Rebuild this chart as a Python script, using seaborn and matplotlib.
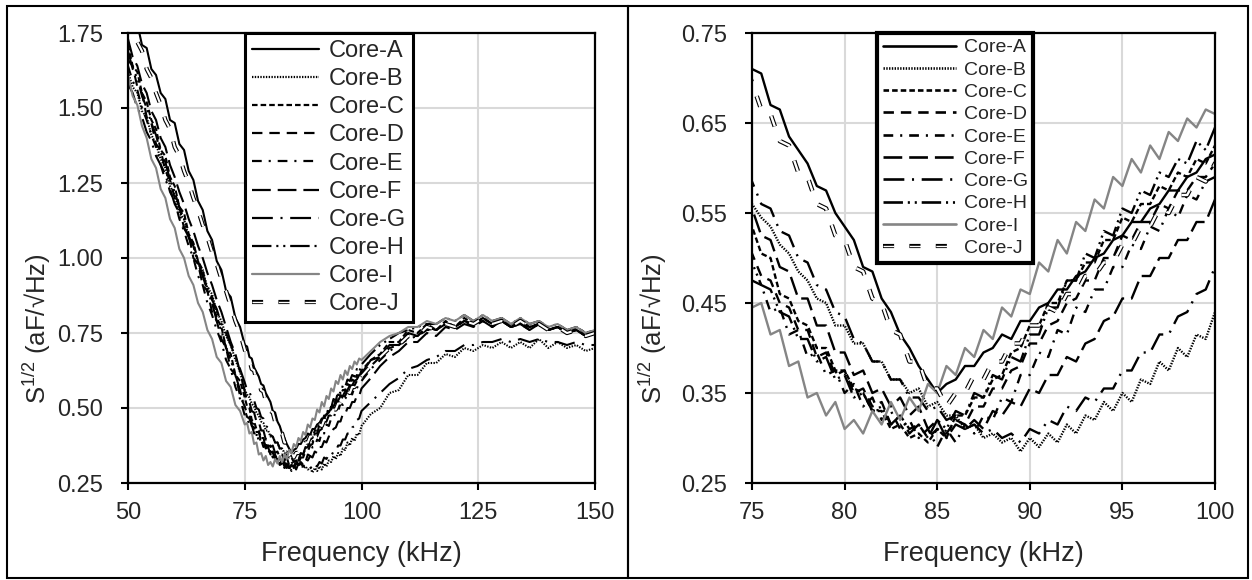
import matplotlib
matplotlib.use("Agg")
import matplotlib.pyplot as plt
import matplotlib.patheffects as pe
from matplotlib.patches import Rectangle
import pandas as pd
import seaborn as sns

# sampling grid (kHz): 1 kHz below 75, 0.5 kHz in the zoomed band, 2 kHz above 100
freq_khz = [50, 51, 52, 53, 54, 55, 56, 57, 58, 59, 60, 61, 62, 63, 64, 65, 66, 67, 68, 69, 70, 71, 72, 73, 74,
            75, 75.5, 76, 76.5, 77, 77.5, 78, 78.5, 79, 79.5, 80, 80.5, 81, 81.5, 82, 82.5, 83, 83.5, 84, 84.5,
            85, 85.5, 86, 86.5, 87, 87.5, 88, 88.5, 89, 89.5, 90, 90.5, 91, 91.5, 92, 92.5, 93, 93.5, 94, 94.5,
            95, 95.5, 96, 96.5, 97, 97.5, 98, 98.5, 99, 99.5, 100,
            102, 104, 106, 108, 110, 112, 114, 116, 118, 120, 122, 124, 126, 128, 130, 132, 134, 136, 138, 140,
            142, 144, 146, 148, 150]

core_names = ["Core-A", "Core-B", "Core-C", "Core-D", "Core-E",
              "Core-F", "Core-G", "Core-H", "Core-I", "Core-J"]

core_a = [1.85, 1.79, 1.78, 1.71, 1.70, 1.63, 1.61, 1.55, 1.53, 1.46, 1.45, 1.38, 1.36, 1.29, 1.26, 1.19, 1.16, 1.09, 1.06, 0.99, 0.96, 0.89, 0.87, 0.80, 0.77,
          0.71, 0.705, 0.67, 0.665, 0.635, 0.62, 0.605, 0.58, 0.575, 0.55, 0.535, 0.52, 0.49, 0.485, 0.455, 0.44, 0.415, 0.40, 0.38, 0.365,
          0.35, 0.36, 0.365, 0.38, 0.38, 0.395, 0.40, 0.415, 0.41, 0.43, 0.43, 0.445, 0.45, 0.465, 0.465, 0.48, 0.485, 0.50, 0.505, 0.52,
          0.525, 0.54, 0.54, 0.555, 0.56, 0.575, 0.575, 0.59, 0.595, 0.61, 0.615,
          0.66, 0.67, 0.71, 0.71, 0.75, 0.74, 0.77, 0.76, 0.78, 0.77, 0.79, 0.78, 0.80, 0.78, 0.79, 0.77, 0.78, 0.77, 0.78, 0.76, 0.77, 0.75, 0.76, 0.74, 0.75]
core_b = [1.62, 1.57, 1.55, 1.49, 1.47, 1.41, 1.38, 1.33, 1.30, 1.24, 1.21, 1.15, 1.13, 1.07, 1.05, 0.98, 0.96, 0.90, 0.88, 0.82, 0.79, 0.74, 0.71, 0.66, 0.62,
          0.56, 0.545, 0.535, 0.515, 0.505, 0.485, 0.475, 0.455, 0.45, 0.425, 0.425, 0.405, 0.405, 0.385, 0.385, 0.365, 0.365, 0.35, 0.355, 0.335,
          0.34, 0.325, 0.325, 0.31, 0.315, 0.30, 0.305, 0.295, 0.30, 0.285, 0.30, 0.29, 0.305, 0.295, 0.315, 0.305, 0.325, 0.32, 0.34, 0.33,
          0.35, 0.34, 0.365, 0.36, 0.385, 0.375, 0.40, 0.39, 0.415, 0.41, 0.44,
          0.48, 0.50, 0.55, 0.56, 0.61, 0.61, 0.65, 0.65, 0.68, 0.67, 0.70, 0.69, 0.71, 0.70, 0.72, 0.70, 0.72, 0.70, 0.73, 0.70, 0.72, 0.70, 0.71, 0.69, 0.70]
core_c = [1.71, 1.64, 1.62, 1.55, 1.52, 1.46, 1.43, 1.36, 1.34, 1.27, 1.24, 1.17, 1.15, 1.08, 1.05, 0.99, 0.96, 0.89, 0.87, 0.80, 0.77, 0.70, 0.68, 0.61, 0.59,
          0.535, 0.505, 0.50, 0.46, 0.455, 0.43, 0.425, 0.40, 0.40, 0.375, 0.375, 0.355, 0.35, 0.33, 0.33, 0.31, 0.315, 0.30, 0.305, 0.295,
          0.31, 0.30, 0.325, 0.325, 0.345, 0.345, 0.365, 0.37, 0.395, 0.40, 0.425, 0.425, 0.45, 0.45, 0.475, 0.475, 0.495, 0.495, 0.52, 0.52,
          0.545, 0.54, 0.56, 0.56, 0.58, 0.575, 0.595, 0.59, 0.61, 0.605, 0.625,
          0.66, 0.68, 0.72, 0.72, 0.76, 0.75, 0.78, 0.76, 0.79, 0.77, 0.80, 0.78, 0.80, 0.78, 0.80, 0.77, 0.79, 0.77, 0.78, 0.76, 0.77, 0.75, 0.77, 0.75, 0.76]
core_d = [1.66, 1.64, 1.57, 1.55, 1.47, 1.45, 1.38, 1.36, 1.29, 1.26, 1.20, 1.17, 1.10, 1.08, 1.00, 0.98, 0.91, 0.89, 0.82, 0.79, 0.73, 0.70, 0.63, 0.61, 0.54,
          0.505, 0.48, 0.475, 0.45, 0.445, 0.42, 0.42, 0.39, 0.395, 0.37, 0.375, 0.35, 0.355, 0.335, 0.34, 0.315, 0.325, 0.31, 0.315, 0.30,
          0.31, 0.305, 0.32, 0.315, 0.335, 0.335, 0.355, 0.355, 0.375, 0.38, 0.405, 0.405, 0.425, 0.43, 0.45, 0.455, 0.475, 0.475, 0.50, 0.50,
          0.525, 0.52, 0.54, 0.54, 0.56, 0.555, 0.575, 0.575, 0.59, 0.59, 0.605,
          0.64, 0.67, 0.70, 0.71, 0.74, 0.74, 0.77, 0.76, 0.78, 0.77, 0.79, 0.78, 0.79, 0.77, 0.79, 0.77, 0.78, 0.76, 0.78, 0.76, 0.77, 0.75, 0.76, 0.74, 0.75]
core_e = [1.64, 1.59, 1.56, 1.50, 1.46, 1.41, 1.37, 1.31, 1.28, 1.22, 1.19, 1.13, 1.09, 1.04, 1.00, 0.94, 0.91, 0.85, 0.81, 0.76, 0.72, 0.66, 0.63, 0.57, 0.53,
          0.475, 0.47, 0.44, 0.445, 0.415, 0.42, 0.39, 0.395, 0.37, 0.375, 0.35, 0.36, 0.335, 0.345, 0.32, 0.33, 0.31, 0.32, 0.30, 0.31,
          0.29, 0.31, 0.295, 0.315, 0.305, 0.325, 0.32, 0.345, 0.34, 0.37, 0.37, 0.395, 0.39, 0.42, 0.415, 0.445, 0.44, 0.465, 0.465, 0.49,
          0.49, 0.515, 0.51, 0.535, 0.53, 0.555, 0.545, 0.57, 0.565, 0.585, 0.59,
          0.63, 0.66, 0.69, 0.71, 0.73, 0.74, 0.76, 0.76, 0.78, 0.77, 0.79, 0.77, 0.80, 0.78, 0.79, 0.78, 0.79, 0.77, 0.78, 0.76, 0.77, 0.76, 0.76, 0.75, 0.74]
core_f = [1.73, 1.67, 1.64, 1.58, 1.55, 1.49, 1.46, 1.40, 1.37, 1.31, 1.27, 1.22, 1.18, 1.13, 1.09, 1.04, 1.00, 0.95, 0.91, 0.86, 0.82, 0.77, 0.72, 0.68, 0.62,
          0.555, 0.525, 0.52, 0.49, 0.485, 0.455, 0.455, 0.425, 0.425, 0.395, 0.395, 0.37, 0.375, 0.35, 0.355, 0.335, 0.345, 0.325, 0.335, 0.31,
          0.32, 0.30, 0.315, 0.31, 0.32, 0.31, 0.33, 0.325, 0.34, 0.335, 0.355, 0.35, 0.37, 0.37, 0.39, 0.385, 0.405, 0.41, 0.43, 0.435,
          0.455, 0.455, 0.48, 0.48, 0.50, 0.50, 0.52, 0.52, 0.54, 0.54, 0.565,
          0.60, 0.64, 0.67, 0.69, 0.72, 0.72, 0.75, 0.74, 0.77, 0.76, 0.78, 0.77, 0.79, 0.77, 0.79, 0.77, 0.78, 0.76, 0.78, 0.76, 0.77, 0.75, 0.76, 0.74, 0.75]
core_g = [1.58, 1.55, 1.50, 1.47, 1.42, 1.39, 1.34, 1.31, 1.26, 1.23, 1.18, 1.15, 1.10, 1.07, 1.02, 0.99, 0.94, 0.91, 0.86, 0.83, 0.78, 0.75, 0.71, 0.67, 0.63,
          0.585, 0.56, 0.555, 0.53, 0.525, 0.50, 0.495, 0.47, 0.465, 0.44, 0.435, 0.41, 0.405, 0.385, 0.385, 0.365, 0.365, 0.345, 0.345, 0.33,
          0.335, 0.32, 0.325, 0.31, 0.315, 0.305, 0.31, 0.30, 0.305, 0.295, 0.31, 0.305, 0.32, 0.315, 0.335, 0.33, 0.345, 0.34, 0.355, 0.355,
          0.375, 0.375, 0.395, 0.395, 0.415, 0.415, 0.435, 0.44, 0.46, 0.465, 0.49,
          0.52, 0.55, 0.58, 0.60, 0.63, 0.64, 0.66, 0.67, 0.69, 0.69, 0.71, 0.71, 0.72, 0.72, 0.73, 0.72, 0.73, 0.72, 0.73, 0.72, 0.72, 0.71, 0.72, 0.71, 0.71]
core_h = [1.69, 1.63, 1.60, 1.54, 1.50, 1.45, 1.41, 1.35, 1.32, 1.26, 1.22, 1.17, 1.13, 1.07, 1.04, 0.98, 0.94, 0.89, 0.85, 0.79, 0.76, 0.70, 0.66, 0.61, 0.56,
          0.495, 0.47, 0.465, 0.44, 0.435, 0.41, 0.41, 0.385, 0.39, 0.365, 0.37, 0.345, 0.35, 0.33, 0.335, 0.315, 0.325, 0.305, 0.315, 0.30,
          0.32, 0.31, 0.33, 0.325, 0.35, 0.345, 0.37, 0.365, 0.39, 0.385, 0.415, 0.415, 0.445, 0.445, 0.475, 0.475, 0.505, 0.50, 0.53, 0.525,
          0.555, 0.55, 0.575, 0.57, 0.595, 0.59, 0.61, 0.605, 0.63, 0.62, 0.645,
          0.68, 0.71, 0.73, 0.75, 0.76, 0.77, 0.78, 0.78, 0.80, 0.79, 0.81, 0.79, 0.81, 0.79, 0.80, 0.78, 0.80, 0.78, 0.79, 0.77, 0.78, 0.76, 0.77, 0.75, 0.76]
core_i = [1.61, 1.54, 1.51, 1.44, 1.40, 1.33, 1.30, 1.23, 1.20, 1.13, 1.10, 1.03, 1.00, 0.94, 0.91, 0.85, 0.82, 0.76, 0.73, 0.67, 0.65, 0.59, 0.57, 0.51, 0.49,
          0.445, 0.45, 0.415, 0.42, 0.38, 0.385, 0.345, 0.35, 0.325, 0.34, 0.31, 0.32, 0.305, 0.33, 0.315, 0.34, 0.32, 0.345, 0.33, 0.36,
          0.35, 0.38, 0.37, 0.40, 0.39, 0.42, 0.41, 0.445, 0.435, 0.465, 0.46, 0.495, 0.485, 0.52, 0.505, 0.54, 0.53, 0.565, 0.555, 0.59,
          0.58, 0.61, 0.595, 0.625, 0.61, 0.64, 0.63, 0.655, 0.645, 0.665, 0.66,
          0.69, 0.72, 0.74, 0.75, 0.77, 0.77, 0.79, 0.78, 0.80, 0.79, 0.81, 0.79, 0.81, 0.79, 0.80, 0.78, 0.80, 0.78, 0.79, 0.77, 0.78, 0.76, 0.77, 0.75, 0.76]
core_j = [1.80, 1.77, 1.72, 1.69, 1.63, 1.60, 1.55, 1.51, 1.46, 1.43, 1.37, 1.34, 1.29, 1.25, 1.20, 1.16, 1.11, 1.07, 1.02, 0.98, 0.93, 0.89, 0.84, 0.79, 0.75,
          0.695, 0.665, 0.66, 0.63, 0.625, 0.595, 0.59, 0.56, 0.555, 0.525, 0.52, 0.49, 0.485, 0.455, 0.45, 0.42, 0.415, 0.385, 0.385, 0.355,
          0.355, 0.335, 0.35, 0.35, 0.37, 0.365, 0.385, 0.385, 0.405, 0.405, 0.425, 0.425, 0.445, 0.44, 0.46, 0.46, 0.48, 0.48, 0.495, 0.495,
          0.515, 0.515, 0.535, 0.535, 0.555, 0.55, 0.57, 0.57, 0.59, 0.585, 0.605,
          0.64, 0.67, 0.70, 0.71, 0.74, 0.74, 0.77, 0.76, 0.78, 0.77, 0.79, 0.78, 0.80, 0.78, 0.79, 0.77, 0.79, 0.77, 0.78, 0.76, 0.77, 0.75, 0.76, 0.74, 0.75]

curves = dict(zip(core_names, [core_a, core_b, core_c, core_d, core_e,
                               core_f, core_g, core_h, core_i, core_j]))
df = pd.DataFrame({"freq": freq_khz, **curves}).melt(id_vars="freq", var_name="core", value_name="s")

sns.set_theme(style="white")
plt.rcParams["font.family"] = ["Liberation Sans", "DejaVu Sans"]
plt.rcParams["mathtext.default"] = "regular"
plt.rcParams["lines.scale_dashes"] = False

palette = {name: "black" for name in core_names}
palette["Core-I"] = "#858585"
palette["Core-J"] = "white"
dash_map = {
    "Core-A": "",
    "Core-B": (1.0, 1.0),
    "Core-C": (4.0, 2.2),
    "Core-D": (7.5, 5.0),
    "Core-E": (7.0, 5.0, 1.5, 5.0),
    "Core-F": (13.5, 5.0),
    "Core-G": (15.0, 5.5, 1.5, 5.5),
    "Core-H": (14.0, 3.5, 1.5, 3.5, 1.5, 3.5),
    "Core-I": "",
    "Core-J": (8.0, 11.0),
}

W, H = 1252, 580
fig = plt.figure(figsize=(W / 100, H / 100), dpi=100)
ax_full = fig.add_axes([128 / W, 1 - 483 / H, 467 / W, 450 / H])
ax_zoom = fig.add_axes([752 / W, 1 - 483 / H, 463 / W, 450 / H])

# frames around each half, like the two pasted Excel charts
for x0, x1 in [(7, 628), (628, 1248)]:
    fig.add_artist(Rectangle((x0 / W, 1 - 578 / H), (x1 - x0) / W, 572 / H,
                             transform=fig.transFigure, fill=False, lw=1.5, ec="black"))


def draw(ax, lw, xlim, xticks, ylim, yticks, leg_x, leg_size, leg_space, leg_lw, leg_frame, handlelen, ylab_x):
    sns.lineplot(data=df, x="freq", y="s", hue="core", style="core",
                 hue_order=core_names, style_order=core_names,
                 palette=palette, dashes=dash_map, linewidth=lw,
                 estimator=None, sort=False, legend=False, ax=ax)
    lines = ax.lines[:len(core_names)]
    lines[-1].set_path_effects([pe.Stroke(linewidth=lw + 1.6, foreground="black"), pe.Normal()])

    ax.set_xlim(*xlim)
    ax.set_ylim(*ylim)
    ax.set_xticks(xticks)
    ax.set_yticks(yticks)
    ax.set_yticklabels([f"{v:.2f}" for v in yticks])
    ax.grid(True, color="#d9d9d9", linewidth=1.5)
    ax.set_axisbelow(True)
    for sp in ax.spines.values():
        sp.set_color("black")
        sp.set_linewidth(1.6)
    ax.tick_params(axis="both", direction="out", length=5, width=1.5, color="black",
                   labelsize=17, labelcolor="#262626", left=True, bottom=True)
    ax.tick_params(axis="y", pad=13)
    ax.tick_params(axis="x", pad=9)

    ax.set_xlabel("Frequency (kHz)", fontsize=19.5, color="#262626")
    ax.set_ylabel("S$^{1/2}$ (aF/\u221aHz)", fontsize=18.5, color="#262626")
    ax.xaxis.set_label_coords(0.5, -0.128)
    ax.yaxis.set_label_coords(ylab_x, 0.344)

    leg = ax.legend(lines, core_names, loc="upper left", bbox_to_anchor=(leg_x, 1.0),
                    borderaxespad=0, fontsize=leg_size, handlelength=handlelen,
                    handletextpad=0.4, labelspacing=leg_space, borderpad=0.3,
                    frameon=True, fancybox=False, framealpha=1, edgecolor="black")
    leg.get_frame().set_linewidth(leg_frame)
    for t in leg.get_texts():
        t.set_color("#262626")
    leg_lines = leg.get_lines()
    for ln in leg_lines:
        ln.set_linewidth(leg_lw)
    leg_lines[-1].set_linewidth(1.0)
    leg_lines[-1].set_path_effects([pe.Stroke(linewidth=3.0, foreground="black"), pe.Normal()])


draw(ax_full, 1.5, (50, 150), [50, 75, 100, 125, 150], (0.25, 1.75),
     [0.25, 0.50, 0.75, 1.00, 1.25, 1.50, 1.75], 0.2505, 17, 0.26, 1.6, 2.2, 2.85, -0.161)
draw(ax_zoom, 1.7, (75, 100), [75, 80, 85, 90, 95, 100], (0.25, 0.75),
     [0.25, 0.35, 0.45, 0.55, 0.65, 0.75], 0.27, 14, 0.24, 1.9, 3.0, 3.75, -0.179)

fig.savefig("out.png", dpi=100)
